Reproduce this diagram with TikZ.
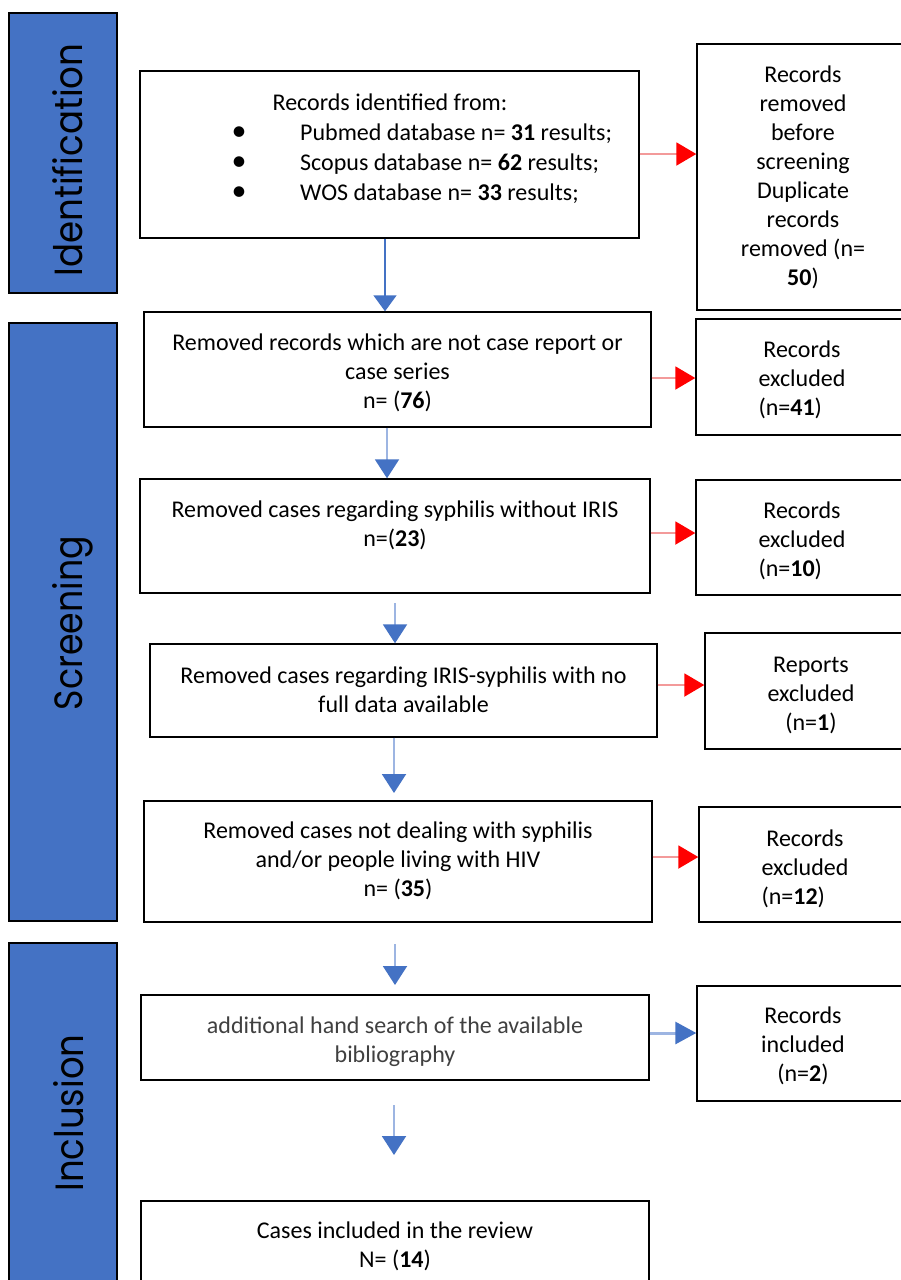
\documentclass[tikz,border=0pt]{standalone}
\usepackage{fontspec}
\setmainfont{Carlito}
\newfontfamily\bandfont{Poppins}
\usetikzlibrary{arrows.meta}
\definecolor{bandblue}{HTML}{4472C4}
\definecolor{lightblue}{HTML}{9DB5E2}
\definecolor{lightred}{HTML}{F39A9A}
\definecolor{greytext}{HTML}{404040}
\newcommand\leftn[1]{\setbox0\hbox{excluded}\makebox[\wd0][l]{#1}}
\newcommand\ml[2]{\raisebox{#1}[\height][\depth]{\begin{tabular}{@{}c@{}}#2\end{tabular}}}
\begin{document}
\begin{tikzpicture}[x=1pt,y=-1pt,
  box/.style={draw=black, line width=1.4pt, fill=white, inner sep=0pt,
    font=\fontsize{24}{29}\selectfont},
  txt/.style={inner sep=0pt, font=\fontsize{24}{29}\selectfont},
  band/.style={draw=black, line width=1.6pt, fill=bandblue, inner sep=0pt},
  bandtxt/.style={rotate=90, anchor=base, inner sep=0pt},
  barrow/.style={draw=bandblue, line width=1.5pt, -{Triangle[length=16pt,width=23pt,color=bandblue]}},
  larrow/.style={draw=lightblue, line width=2pt, -{Triangle[length=19pt,width=24pt,color=bandblue]}},
  rarrow/.style={draw=lightred, line width=2pt, -{Triangle[length=20pt,width=23pt,color=red]}},
  harrow/.style={draw=lightblue, line width=3pt, -{Triangle[length=21pt,width=22pt,color=bandblue]}}]
\clip (0,0) rectangle (901,1280);
\fill[white] (0,0) rectangle (901,1280);

% bands
\node[band, minimum width=108pt, minimum height=280pt] (idband) at (63,153) {};
\node[band, minimum width=108pt, minimum height=598pt] (scband) at (63,622) {};
\node[band, minimum width=108pt, minimum height=350pt] (inband) at (63,1118) {};
\node[bandtxt] (idtxt) at (82,160) {\resizebox{233pt}{30pt}{\bandfont Identification}};
\node[bandtxt] (sctxt) at (82,623) {\resizebox{174pt}{30pt}{\bandfont Screening}};
\node[bandtxt] (intxt) at (83,1113) {\resizebox{157pt}{30pt}{\bandfont Inclusion}};

% main boxes
\node[box, minimum width=499pt, minimum height=167pt] (b1) at (389.5,154.5) {};
\node[txt, anchor=base] (b1h) at (390,110) {Records identified from:};
\foreach \yy/\nm/\lab in {140/l1/{Pubmed database n= \textbf{31} results;},
                         170/l2/{Scopus database n= \textbf{62} results;},
                         200/l3/{WOS database n= \textbf{33} results;}}{
  \node[txt, anchor=base] (\nm b) at (239,\yy) {\scalebox{1.25}{\textbullet}};
  \node[txt, anchor=base west] (\nm) at (300,\yy) {\lab};
}
\node[box, minimum width=507pt, minimum height=115pt] (b2) at (397.5,369.5)
  {\ml{-4pt}{Removed records which are not case report or\\case series\\n= (\textbf{76})}};
\node[box, minimum width=510pt, minimum height=114pt] (b3) at (395,536)
  {\ml{10pt}{Removed cases regarding syphilis without IRIS\\n=(\textbf{23})}};
\node[box, minimum width=507pt, minimum height=93pt] (b4) at (403.5,690.5)
  {\ml{-1.3pt}{Removed cases regarding IRIS-syphilis with no\\full data available}};
\node[box, minimum width=508pt, minimum height=121pt] (b5) at (398,861.5)
  {\ml{0pt}{Removed cases not dealing with syphilis\\and/or people living with HIV\\n= (\textbf{35})}};
\node[box, minimum width=508pt, minimum height=85pt, text=greytext] (b6) at (395,1037.5)
  {\ml{-4.5pt}{additional hand search of the available\\bibliography}};
\node[box, minimum width=508pt, minimum height=86pt] (b7) at (395,1244)
  {\ml{-3pt}{Cases included in the review\\N= (\textbf{14})}};

% right boxes
\node[box, minimum width=212pt, minimum height=266pt] (r1) at (803,177)
  {\ml{-1pt}{Records\\removed\\before\\screening\\Duplicate\\records\\removed (n=\\\textbf{50})}};
\node[box, minimum width=212pt, minimum height=116pt] (r2) at (802,377)
  {\ml{-3.5pt}{Records\\excluded\\\leftn{(n=\textbf{41})}}};
\node[box, minimum width=212pt, minimum height=115pt] (r3) at (802,537.5)
  {\ml{-4pt}{Records\\excluded\\\leftn{(n=\textbf{10})}}};
\node[box, minimum width=212pt, minimum height=116pt] (r4) at (811,691)
  {\ml{-4.5pt}{Reports\\excluded\\(n=\textbf{1})}};
\node[box, minimum width=212pt, minimum height=115pt] (r5) at (805,864.5)
  {\ml{-5pt}{Records\\excluded\\\leftn{(n=\textbf{12})}}};
\node[box, minimum width=212pt, minimum height=115pt] (r6) at (803,1043.5)
  {\ml{-3pt}{Records\\included\\(n=\textbf{2})}};

% coordinates for arrows
\coordinate (x1) at (385,0);
\coordinate (x2) at (387,0);
\coordinate (x3) at (395,0);
\coordinate (x4) at (394,0);
\coordinate (a3s) at (395,603);
\coordinate (a4e) at (394,793);
\coordinate (a5s) at (395,944);
\coordinate (a5e) at (395,985);
\coordinate (a6s) at (394,1105);
\coordinate (a6e) at (394,1155);
\coordinate (y1) at (0,154);
\coordinate (y2) at (0,378);
\coordinate (y3) at (0,533);
\coordinate (y4) at (0,685);
\coordinate (y5) at (0,857);
\coordinate (y6) at (0,1033);

% vertical arrows
\draw[barrow] (b1.south -| x1) -- (b2.north -| x1);
\draw[larrow] (b2.south -| x2) -- (b3.north -| x2);
\draw[larrow] (a3s) -- (b4.north -| x3);
\draw[larrow] (b4.south -| x4) -- (a4e);
\draw[larrow] (a5s) -- (a5e);
\draw[larrow] (a6s) -- (a6e);

% horizontal arrows
\draw[rarrow] (b1.east |- y1) -- (r1.west |- y1);
\draw[rarrow] (b2.east |- y2) -- (r2.west |- y2);
\draw[rarrow] (b3.east |- y3) -- (r3.west |- y3);
\draw[rarrow] (b4.east |- y4) -- (r4.west |- y4);
\draw[rarrow] (b5.east |- y5) -- (r5.west |- y5);
\draw[harrow] (b6.east |- y6) -- (r6.west |- y6);
\end{tikzpicture}
\end{document}
